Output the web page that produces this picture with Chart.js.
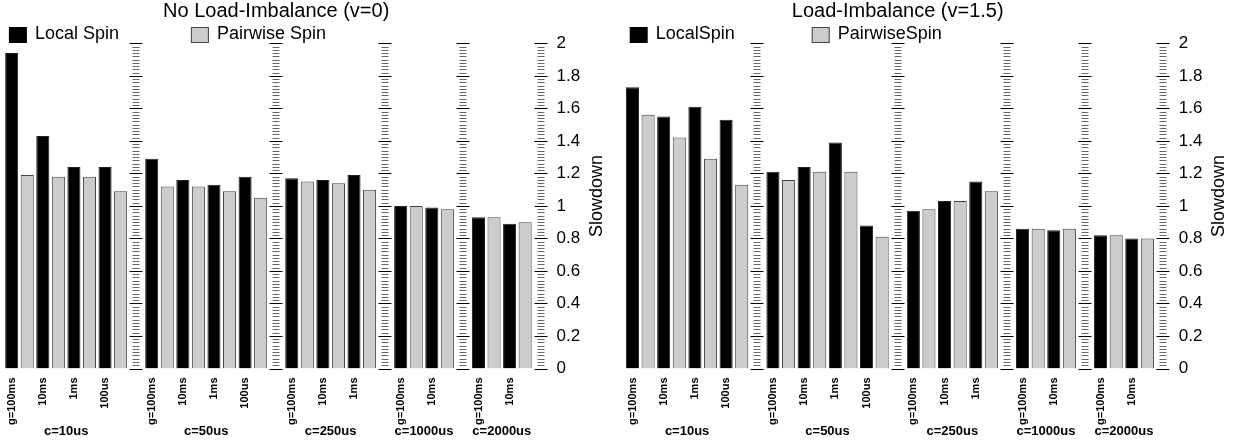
<!DOCTYPE html>
<html>
<head>
<meta charset="utf-8">
<script src="https://cdn.jsdelivr.net/npm/chart.js@4.4.1/dist/chart.umd.min.js"></script>
<style>
  body { margin: 0; background: #fff; }
  #wrap { position: relative; width: 1233px; height: 440px; }
  canvas { position: absolute; top: 0; }
</style>
</head>
<body>
<div id="wrap">
  <canvas id="left-panel" width="616" height="440" style="left:0"></canvas>
  <canvas id="right-panel" width="617" height="440" style="left:616px"></canvas>
</div>
<script>
// categories
const groupLabels = ['c=10us', 'c=50us', 'c=250us', 'c=1000us', 'c=2000us'];
const granularityLabels = [
    ['g=100ms', '10ms', '1ms', '100us'],
    ['g=100ms', '10ms', '1ms', '100us'],
    ['g=100ms', '10ms', '1ms'],
    ['g=100ms', '10ms'],
    ['g=100ms', '10ms']
];

// values, in the order of the granularity labels above
const localSpinNoImbalance    = [1.94, 1.43, 1.24, 1.24,  1.29, 1.16, 1.13, 1.18,  1.17, 1.16, 1.19,  1.00, 0.99,  0.93, 0.89];
const pairwiseSpinNoImbalance = [1.19, 1.18, 1.18, 1.09,  1.12, 1.12, 1.09, 1.05,  1.15, 1.14, 1.10,  1.00, 0.98,  0.93, 0.90];
const localSpinImbalance      = [1.73, 1.55, 1.61, 1.53,  1.21, 1.24, 1.39, 0.88,  0.97, 1.03, 1.15,  0.86, 0.85,  0.82, 0.80];
const pairwiseSpinImbalance   = [1.56, 1.42, 1.29, 1.13,  1.16, 1.21, 1.21, 0.81,  0.98, 1.03, 1.09,  0.86, 0.86,  0.82, 0.80];

// y axis
const yMin = 0;
const yMax = 2;
const yMajorStep = 0.2;
const yMinorPerMajor = 10;

const FONT = '"Liberation Sans", Arial, sans-serif';

// lay the bars out as slots: black, gray per g value, then one empty slot for the axis ticks
function buildSlots(localVals, pairVals) {
    let labels = [], local = [], pair = [], separators = [], groups = [];
    let k = 0;
    granularityLabels.forEach((gs, gi) => {
        let first = labels.length;
        gs.forEach(g => {
            labels.push(g); local.push(localVals[k]); pair.push(null);
            labels.push(''); local.push(null); pair.push(pairVals[k]);
            k++;
        });
        groups.push({ text: groupLabels[gi], first: first, last: labels.length - 1 });
        separators.push(labels.length);
        labels.push(''); local.push(null); pair.push(null);
    });
    return { labels, local, pair, separators, groups };
}

const panelDecor = {
    id: 'panelDecor',
    afterDraw(chart, args, opts) {
        const ctx = chart.ctx;
        const xs = chart.scales.x;
        const ys = chart.scales.y;
        const area = chart.chartArea;
        ctx.save();

        // tick ladders between the groups
        ctx.lineWidth = 1;
        const nTicks = Math.round((yMax - yMin) / yMajorStep) * yMinorPerMajor;
        opts.separators.forEach(idx => {
            const cx = Math.round(xs.getPixelForValue(idx));
            for (let t = 0; t <= nTicks; t++) {
                const y = Math.round(ys.getPixelForValue(yMin + t * yMajorStep / yMinorPerMajor)) + 0.5;
                const major = t % yMinorPerMajor === 0;
                const half = major ? 6.5 : 3.5;
                ctx.strokeStyle = major ? '#000' : '#666';
                ctx.beginPath();
                ctx.moveTo(cx - half, y);
                ctx.lineTo(cx + half, y);
                ctx.stroke();
            }
        });

        // group labels
        ctx.fillStyle = '#000';
        ctx.font = 'bold 13px ' + FONT;
        ctx.textAlign = 'center';
        ctx.textBaseline = 'middle';
        opts.groups.forEach(g => {
            const x = (xs.getPixelForValue(g.first) + xs.getPixelForValue(g.last)) / 2;
            ctx.fillText(g.text, x, 431);
        });

        // title
        ctx.font = '20px ' + FONT;
        ctx.fillText(opts.title, (area.left + area.right) / 2, 11);

        // legend
        ctx.textAlign = 'left';
        ctx.font = '18px ' + FONT;
        ctx.fillStyle = '#000';
        ctx.fillRect(area.left + 5, 27, 18, 16);
        ctx.fillText(opts.legend[0], area.left + 31, 34);
        ctx.fillStyle = '#cccccc';
        ctx.fillRect(area.left + 187, 27, 18, 16);
        ctx.strokeStyle = '#444';
        ctx.strokeRect(area.left + 187.5, 27.5, 17, 15);
        ctx.fillStyle = '#000';
        ctx.fillText(opts.legend[1], area.left + 213, 34);

        // y axis title, reading upwards
        ctx.translate(area.right + 48.5, 196);
        ctx.rotate(-Math.PI / 2);
        ctx.textAlign = 'center';
        ctx.fillText('Slowdown', 0, 0);
        ctx.restore();
    }
};

function makePanel(canvasId, title, legendNames, localVals, pairVals, padLeft, padRight) {
    const s = buildSlots(localVals, pairVals);
    return new Chart(document.getElementById(canvasId), {
        type: 'bar',
        data: {
            labels: s.labels,
            datasets: [
                {
                    label: legendNames[0],
                    data: s.local,
                    backgroundColor: '#000',
                    borderColor: '#222',
                    borderWidth: 1
                },
                {
                    label: legendNames[1],
                    data: s.pair,
                    backgroundColor: '#cccccc',
                    borderColor: '#444',
                    borderWidth: 1
                }
            ]
        },
        options: {
            responsive: false,
            maintainAspectRatio: false,
            devicePixelRatio: 1,
            animation: false,
            grouped: false,
            barPercentage: 0.84,
            categoryPercentage: 1,
            layout: { padding: { top: 43.3, left: padLeft, right: padRight, bottom: 0 } },
            plugins: {
                legend: { display: false },
                tooltip: { enabled: false },
                panelDecor: { title: title, legend: legendNames, separators: s.separators, groups: s.groups }
            },
            scales: {
                x: {
                    grid: { display: false },
                    border: { display: false },
                    ticks: {
                        autoSkip: false,
                        maxRotation: 90,
                        minRotation: 90,
                        padding: 1,
                        color: '#000',
                        font: { family: FONT, size: 11, weight: 'bold' }
                    },
                    afterFit: scale => { scale.height = 71.5; }
                },
                y: {
                    position: 'right',
                    min: yMin,
                    max: yMax,
                    grid: { display: false, drawTicks: false },
                    border: { display: false },
                    ticks: {
                        stepSize: yMajorStep,
                        padding: 8,
                        color: '#000',
                        font: { family: FONT, size: 17 },
                        callback: v => String(Math.round(v * 10) / 10)
                    },
                    afterFit: scale => { scale.width = 60; }
                }
            }
        },
        plugins: [panelDecor]
    });
}

makePanel('left-panel', 'No Load-Imbalance (v=0)', ['Local Spin', 'Pairwise Spin'],
    localSpinNoImbalance, pairwiseSpinNoImbalance, 3.9, 7.5);
makePanel('right-panel', 'Load-Imbalance (v=1.5)', ['LocalSpin', 'PairwiseSpin'],
    localSpinImbalance, pairwiseSpinImbalance, 8.7, 2.2);
</script>
</body>
</html>
